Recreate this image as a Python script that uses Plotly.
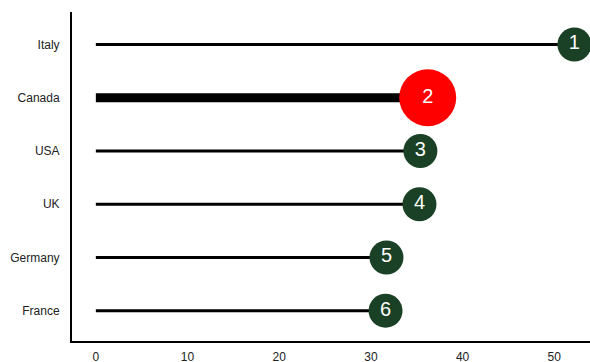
import plotly.graph_objects as go

# Countries ranked by score (top to bottom)
countries = ["Italy", "Canada", "USA", "UK", "Germany", "France"]
scores = [52.2, 36.2, 35.4, 35.3, 31.7, 31.6]
ranks = ["1", "2", "3", "4", "5", "6"]
highlight = "Canada"

title_text = "Country Scores for the Top Nations Ranking"

dark_green = "#1a4125"
red = "#ff0000"

rows = list(range(len(countries)))

fig = go.Figure()

# Stems of the lollipops
for i, (c, v) in enumerate(zip(countries, scores)):
    fig.add_trace(go.Scatter(
        x=[0, v], y=[i, i], mode="lines",
        line=dict(color="black", width=9 if c == highlight else 3),
        hoverinfo="skip", showlegend=False,
    ))

# Heads with rank labels
fig.add_trace(go.Scatter(
    x=scores, y=rows, mode="markers+text",
    text=ranks, textposition="middle center",
    textfont=dict(color="white", size=20, family="Liberation Sans, Arial"),
    marker=dict(
        size=[57 if c == highlight else 34 for c in countries],
        color=[red if c == highlight else dark_green for c in countries],
        line=dict(width=0),
        opacity=1,
    ),
    showlegend=False,
))

# Chart title sitting just above the top edge
fig.add_annotation(
    text=title_text, xref="paper", yref="paper",
    x=0.110, y=1.063, xanchor="left", yanchor="middle",
    showarrow=False, font=dict(size=13.5, color="#222", family="Liberation Sans, Arial"),
)

fig.update_layout(
    width=590, height=362,
    margin=dict(l=72, r=0, t=12, b=21, autoexpand=False),
    paper_bgcolor="white", plot_bgcolor="white",
    font=dict(family="Liberation Sans, Arial", size=12, color="#222"),
    xaxis=dict(
        range=[-2.6, 53.9], tickvals=[0, 10, 20, 30, 40, 50],
        showgrid=False, zeroline=False, automargin=False,
        showline=True, linecolor="black", linewidth=2,
        ticks="outside", ticklen=4, tickcolor="rgba(0,0,0,0)",
    ),
    yaxis=dict(
        range=[5.57, -0.61], tickvals=rows, ticktext=countries,
        showgrid=False, zeroline=False, automargin=False,
        showline=True, linecolor="black", linewidth=2,
        ticks="outside", ticklen=8, tickcolor="rgba(0,0,0,0)",
    ),
)

fig.write_html("out.html")
